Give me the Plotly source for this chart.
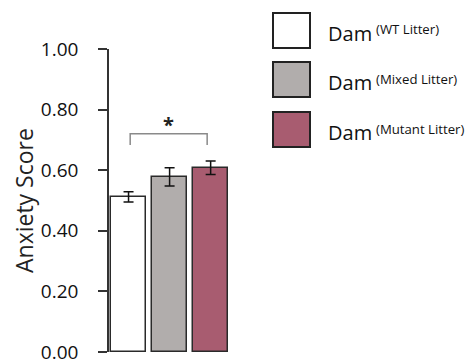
import plotly.graph_objects as go

# ---- data ----
categories = ["WT Litter", "Mixed Litter", "Mutant Litter"]
means = [0.512, 0.578, 0.608]
errors = [0.017, 0.030, 0.022]
colors = ["#ffffff", "#b1adac", "#a85c70"]
legend_main = ["Dam", "Dam", "Dam"]
legend_sup = ["(WT Litter)", "(Mixed Litter)", "(Mutant Litter)"]
tick_vals = [0.0, 0.2, 0.4, 0.6, 0.8, 1.0]
tick_text = ["0.00", "0.20", "0.40", "0.60", "0.80", "1.00"]
bracket_pair = [0, 2]
bracket_top = 0.72
bracket_foot = 0.683
sig_label = "*"

# page offset (browser body margin) compensation
OFF = 8
W, H = 476, 360
PLOT_LEFT, PLOT_TOP, PW, PH = 109, 49, 123, 303   # in screen pixels
L = PLOT_LEFT - OFF
T = PLOT_TOP - OFF
R = W - L - PW
B = H - T - PH


def xp(px):
    return (px - PLOT_LEFT) / PW


def yp(py):
    return (PLOT_TOP + PH - py) / PH


FONT = "Open Sans"
fig = go.Figure()
xs = list(range(len(categories)))
fig.add_trace(go.Bar(
    x=xs, y=means, width=0.84,
    marker=dict(color=colors, line=dict(color="#2a2a2a", width=1.5)),
    error_y=dict(type="data", array=errors, visible=True, color="#111111",
                 thickness=1.5, width=5),
    showlegend=False,
))

# significance bracket
bx0 = bracket_pair[0] + 0.04
bx1 = bracket_pair[1] - 0.085
fig.add_shape(type="path",
              path=f"M {bx0} {bracket_foot} L {bx0} {bracket_top} L {bx1} {bracket_top} L {bx1} {bracket_foot}",
              line=dict(color="#8a8a8a", width=1.5), xref="x", yref="y")
fig.add_annotation(x=(bx0 + bx1) / 2, y=bracket_top, text="<b>" + sig_label + "</b>", showarrow=False,
                   yanchor="bottom", yshift=-6, font=dict(family=FONT, size=20, color="#222"))

# y-axis title
fig.add_annotation(xref="paper", yref="paper", x=xp(24), y=yp(201), text="Anxiety Score",
                   textangle=-90, showarrow=False, xanchor="center", yanchor="middle",
                   font=dict(family=FONT, size=23, color="#222"))

# custom legend
sq_tops = [13, 62, 112]
for i, top in enumerate(sq_tops):
    fig.add_shape(type="rect", xref="paper", yref="paper",
                  x0=xp(273), x1=xp(310), y0=yp(top + 35), y1=yp(top),
                  fillcolor=colors[i], line=dict(color="#222", width=2))
    cy = top + 17.5
    fig.add_annotation(xref="paper", yref="paper", x=xp(326), y=yp(cy + 3),
                       text=legend_main[i], showarrow=False, xanchor="left", yanchor="middle",
                       font=dict(family=FONT, size=20, color="#111"))
    fig.add_annotation(xref="paper", yref="paper", x=xp(374), y=yp(cy - 1),
                       text=legend_sup[i], showarrow=False, xanchor="left", yanchor="middle",
                       font=dict(family=FONT, size=13.2, color="#111"))

fig.update_layout(
    width=W, height=H,
    margin=dict(l=L, r=R, t=T, b=B, autoexpand=False),
    paper_bgcolor="white", plot_bgcolor="white",
    bargap=0,
    xaxis=dict(range=[-0.476, 2.52], showticklabels=False, ticks="", showline=False,
               showgrid=False, zeroline=False, automargin=False),
    yaxis=dict(range=[0, 1], tickvals=tick_vals, ticktext=tick_text, ticks="outside",
               ticklen=9, tickwidth=1.5, tickcolor="#333", showline=True, linecolor="#333",
               linewidth=1.5, showgrid=False, zeroline=False, ticklabelstandoff=16,
               automargin=False,
               tickfont=dict(family=FONT, size=19, color="#111")),
)

fig.write_html("out.html")
